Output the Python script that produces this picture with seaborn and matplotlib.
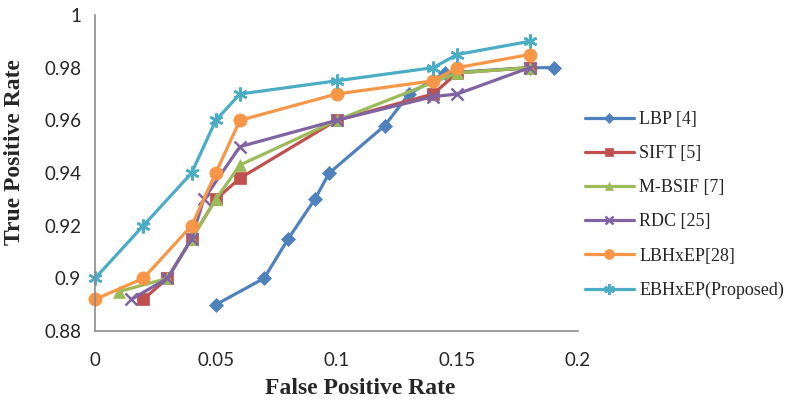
import numpy as np
import pandas as pd
import matplotlib
matplotlib.use("Agg")
import matplotlib.pyplot as plt
import seaborn as sns

# Values
lbp_fpr = [0.05, 0.07, 0.08, 0.091, 0.097, 0.12, 0.13, 0.145, 0.18, 0.19]
lbp_tpr = [0.89, 0.90, 0.915, 0.93, 0.94, 0.958, 0.97, 0.978, 0.98, 0.98]

sift_fpr = [0.02, 0.03, 0.04, 0.05, 0.06, 0.10, 0.14, 0.15, 0.18]
sift_tpr = [0.892, 0.90, 0.915, 0.93, 0.938, 0.96, 0.97, 0.978, 0.98]

mbsif_fpr = [0.01, 0.03, 0.04, 0.05, 0.06, 0.10, 0.15, 0.18]
mbsif_tpr = [0.895, 0.90, 0.915, 0.93, 0.943, 0.96, 0.978, 0.98]

rdc_fpr = [0.015, 0.03, 0.04, 0.045, 0.06, 0.10, 0.14, 0.15, 0.18]
rdc_tpr = [0.892, 0.90, 0.915, 0.93, 0.95, 0.96, 0.969, 0.97, 0.98]

lbhxep_fpr = [0.0, 0.02, 0.04, 0.05, 0.06, 0.10, 0.14, 0.15, 0.18]
lbhxep_tpr = [0.892, 0.90, 0.92, 0.94, 0.96, 0.97, 0.975, 0.98, 0.985]

ebhxep_fpr = [0.0, 0.02, 0.04, 0.05, 0.06, 0.10, 0.14, 0.15, 0.18]
ebhxep_tpr = [0.90, 0.92, 0.94, 0.96, 0.97, 0.975, 0.98, 0.985, 0.99]

labels = ['LBP [4]', 'SIFT [5]', 'M-BSIF [7]', 'RDC [25]', 'LBHxEP[28]', 'EBHxEP(Proposed)']
x_ticks = [0, 0.05, 0.1, 0.15, 0.2]
x_tick_labels = ['0', '0.05', '0.1', '0.15', '0.2']
y_ticks = [0.88, 0.90, 0.92, 0.94, 0.96, 0.98, 1.0]
y_tick_labels = ['0.88', '0.9', '0.92', '0.94', '0.96', '0.98', '1']

series = [(lbp_fpr, lbp_tpr), (sift_fpr, sift_tpr), (mbsif_fpr, mbsif_tpr),
          (rdc_fpr, rdc_tpr), (lbhxep_fpr, lbhxep_tpr), (ebhxep_fpr, ebhxep_tpr)]

colors = ['#4F81BD', '#C0504D', '#9BBB59', '#8064A2', '#F79646', '#4BACC6']
markers = ['D', 's', '^', 'x', 'o', (6, 2, 0)]
msizes = [7, 8.5, 8.5, 8, 9.5, 10]

sns.set_style("white")
plt.rcParams['font.family'] = ['Liberation Serif', 'DejaVu Serif']

fig = plt.figure(figsize=(7.87, 4.08), dpi=100)
ax = fig.add_axes([95 / 787, 77 / 408, 483 / 787, 316 / 408])

for (fx, ty), lab, c, m, ms in zip(series, labels, colors, markers, msizes):
    df = pd.DataFrame({'fpr': fx, 'tpr': ty})
    sns.lineplot(data=df, x='fpr', y='tpr', ax=ax, sort=False, label=lab,
                 color=c, marker=m, markersize=ms, linewidth=2.3, clip_on=False,
                 markeredgecolor=c, markeredgewidth=1.8 if m == 'x' or m == (6, 2, 0) else 0.5)

ax.set_xlim(0, 0.2)
ax.set_ylim(0.88, 1.0)
ax.set_xticks(x_ticks)
ax.set_xticklabels(x_tick_labels, fontfamily='Lato', fontsize=13.5)
ax.set_yticks(y_ticks)
ax.set_yticklabels(y_tick_labels, fontfamily='Lato', fontsize=13.5)
ax.tick_params(axis='x', length=0, pad=15)
ax.tick_params(axis='y', length=0, pad=10)

for side in ['top', 'right']:
    ax.spines[side].set_visible(False)
for side in ['left', 'bottom']:
    ax.spines[side].set_color('#8C8C8C')
    ax.spines[side].set_linewidth(1.2)

ax.set_xlabel('False Positive Rate', fontsize=17, fontweight='bold')
ax.set_ylabel('True Positive Rate', fontsize=17, fontweight='bold')
ax.xaxis.set_label_coords(0.549, -0.15)
ax.yaxis.set_label_coords(-0.145, 0.566)

ax.legend_.remove()
handles, labs = ax.get_legend_handles_labels()
fig.legend(handles, labs, loc='center left', bbox_to_anchor=(585 / 787, 0.4975),
           frameon=False, fontsize=13, handlelength=2.7, handletextpad=0.3,
           labelspacing=0.95, borderpad=0, borderaxespad=0, markerscale=0.75)

fig.savefig('out.png', dpi=100)
